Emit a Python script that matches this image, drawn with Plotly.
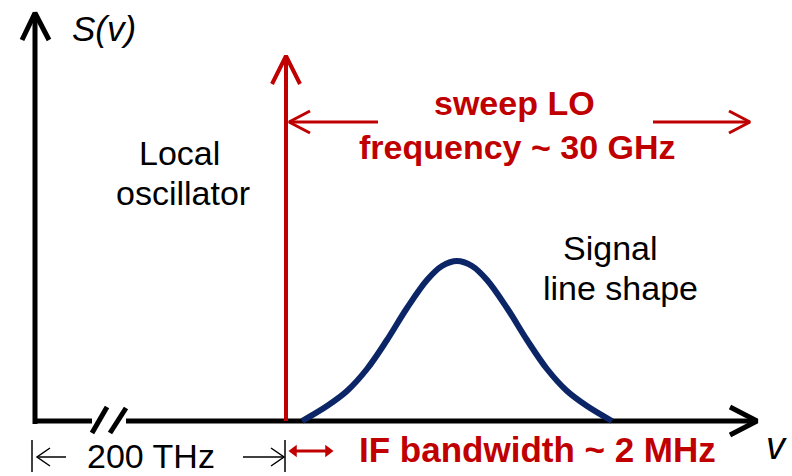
import plotly.graph_objects as go

# Signal line shape: frequency position (px scale) and height above baseline
sig_x = [302, 327, 347, 367, 387, 407, 427, 442, 457, 472, 487, 507, 527, 547, 567, 587, 612]
sig_h = [0, 15, 30, 52, 81, 113, 141, 155, 160, 155, 141, 113, 81, 52, 30, 15, 0]

# Labels
lbl_axis_y = "<i>S(v)</i>"
lbl_axis_x = "<i>v</i>"
lbl_lo = ["Local", "oscillator"]
lbl_sig = ["Signal", "line shape"]
lbl_sweep = ["sweep LO", "frequency ~ 30 GHz"]
lbl_gap = "200 THz"
lbl_if = "IF bandwidth ~ 2 MHz"

W, H = 792, 476
AX_X, AX_Y = 35, 421
LO_X = 286
RED = "#C00000"
NAVY = "#0B2566"
FONT = "Liberation Sans, Arial, sans-serif"

fig = go.Figure()


def seg(xs, ys, color="black", width=5):
    fig.add_trace(go.Scatter(x=xs, y=ys, mode="lines",
                             line=dict(color=color, width=width),
                             hoverinfo="skip", showlegend=False))


# vertical axis with arrow
seg([AX_X, AX_X], [AX_Y + 3, 14])
seg([22, AX_X, 49], [40, 13, 40])
# horizontal axis with break and arrow
seg([AX_X - 2, 92], [AX_Y, AX_Y])
seg([126, 757], [AX_Y, AX_Y])
seg([730, 757, 730], [407, AX_Y, 435])
seg([92, 107], [433, 407])
seg([110, 126], [433, 408])

# local oscillator line
seg([LO_X, LO_X], [AX_Y, 57], RED, 4)
seg([272, LO_X, 300], [84, 56, 84], RED, 4)

# sweep arrows
seg([378, 289], [122, 122], RED, 3)
seg([310, 289, 310], [111, 122, 133], RED, 3)
seg([653, 750], [122, 122], RED, 3)
seg([729, 750, 729], [111, 122, 133], RED, 3)

# 200 THz dimension
seg([32, 32], [440, 472], "black", 1.5)
seg([37, 66], [457, 457], "black", 1.5)
seg([50, 37, 50], [448, 457, 466], "black", 1.5)
seg([243, 284], [457, 457], "black", 1.5)
seg([271, 284, 271], [448, 457, 466], "black", 1.5)
seg([285, 285], [440, 472], "black", 1.5)

# IF bandwidth small double arrow
seg([296, 326], [451, 451], RED, 3)
fig.add_trace(go.Scatter(x=[294, 328], y=[451, 451], mode="markers",
                         marker=dict(symbol=["triangle-left", "triangle-right"],
                                     size=11, color=RED),
                         hoverinfo="skip", showlegend=False))

# signal line shape
fig.add_trace(go.Scatter(x=sig_x, y=[AX_Y - h for h in sig_h], mode="lines",
                         line=dict(color=NAVY, width=6, shape="spline", smoothing=1.0),
                         hoverinfo="skip", showlegend=False))


def txt(s, x, y, size=28, color="black", bold=False, xanchor="center"):
    fig.add_annotation(x=x, y=y, xref="x", yref="y", text=(f"<b>{s}</b>" if bold else s),
                       showarrow=False, xanchor=xanchor, yanchor="middle",
                       font=dict(family=FONT, size=size, color=color))


txt(lbl_axis_y, 70, 28, 35, xanchor="left")
txt(lbl_axis_x, 776, 446, 38)
txt(lbl_lo[0], 179, 153, 34)
txt(lbl_lo[1], 183, 193, 34)
txt(lbl_sig[0], 610, 248, 34)
txt(lbl_sig[1], 620, 288, 34)
txt(lbl_sweep[0], 514, 103, 34, RED, True)
txt(lbl_sweep[1], 517, 147, 34, RED, True)
txt(lbl_gap, 151, 456, 34)
txt(lbl_if, 537, 449, 35, RED, True)

fig.update_layout(
    width=W, height=H,
    margin=dict(l=0, r=0, t=0, b=0),
    paper_bgcolor="white", plot_bgcolor="white",
    xaxis=dict(range=[0, W], visible=False, fixedrange=True),
    yaxis=dict(range=[H, 0], visible=False, fixedrange=True),
    showlegend=False,
)

fig.write_html("out.html", config={"displayModeBar": False},
               post_script="document.body.style.margin='0';document.body.style.overflow='hidden';")
